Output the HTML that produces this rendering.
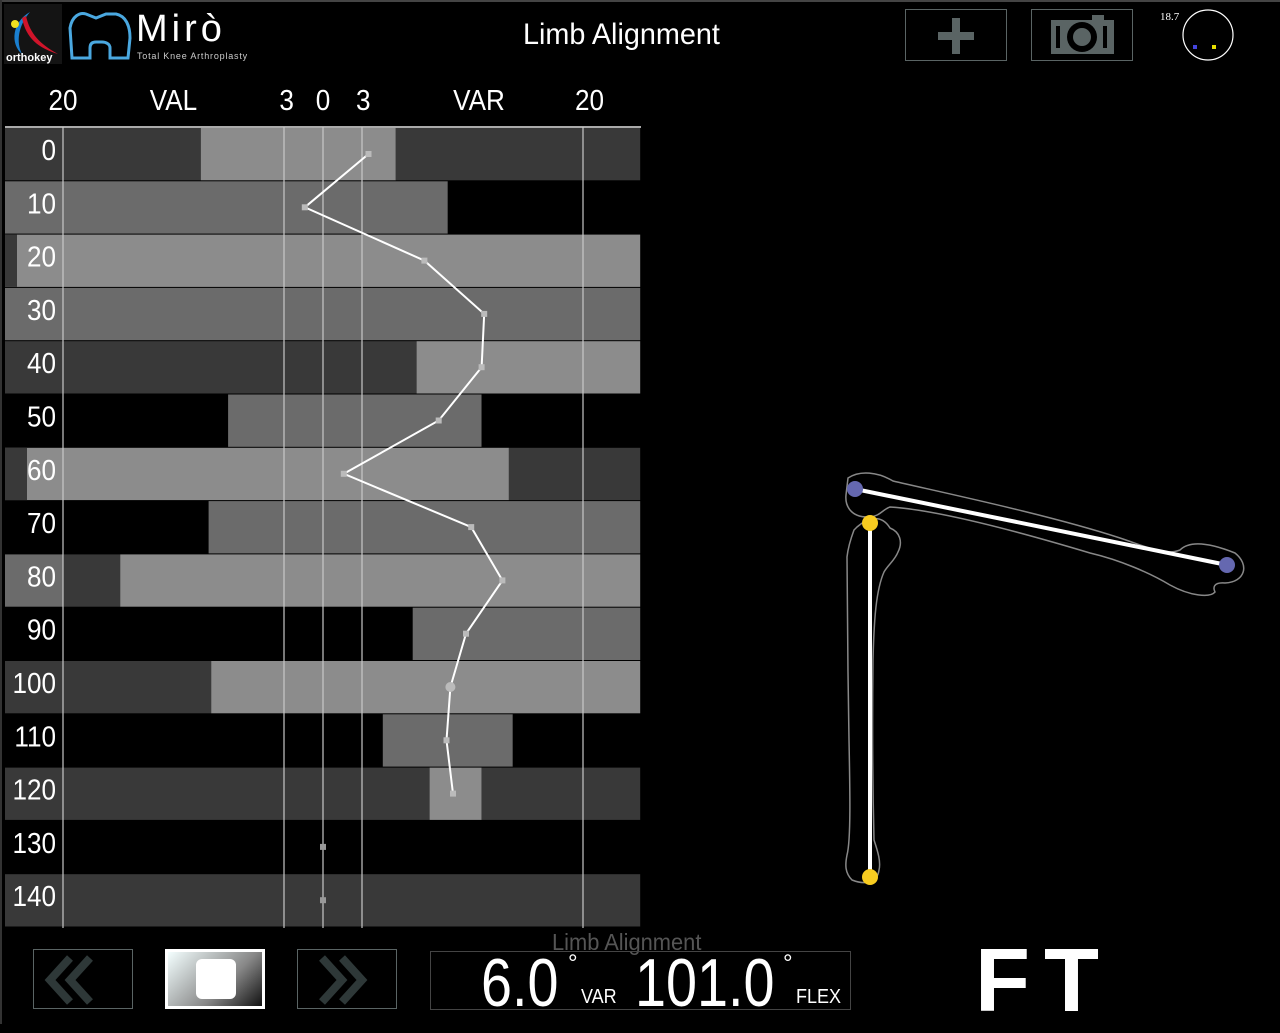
<!DOCTYPE html>
<html><head><meta charset="utf-8"><style>
body{margin:0;width:1280px;height:1024px;background:#000;overflow:hidden;font-family:"Liberation Sans",sans-serif;color:#fff;position:relative}
.frame{position:absolute;left:0;top:0;width:1280px;height:2px;background:#444}
.framel{position:absolute;left:0;top:0;width:2px;height:1024px;background:#333}
.btn{position:absolute;border:1px solid #5a6464;box-sizing:border-box}
.t{position:absolute;white-space:nowrap}
</style></head><body>
<div class="frame"></div>
<div class="framel"></div>

<svg style="position:absolute;left:4px;top:4px" width="58" height="60">
<rect width="58" height="60" fill="#141414"/>
<path d="M26 8 C8 18 6 40 18 50 C12 38 14 22 26 8Z" fill="#1a7fd0"/>
<path d="M18 14 C22 34 34 44 54 50 C36 40 26 30 22 12Z" fill="#d0142a"/>
<circle cx="11" cy="20" r="4" fill="#f0e020"/>
<text x="2" y="57" font-size="11" font-weight="bold" fill="#fff" font-family="Liberation Sans">orthokey</text>
</svg>
<svg style="position:absolute;left:66px;top:8px" width="70" height="56">
<path d="M6 50 L4 20 C6 8 14 4 20 6 L30 10 L40 6 L50 6 C60 8 64 18 64 30 L62 50 L44 50 L44 40 C44 36 40 34 36 34 L30 34 C26 34 24 36 24 40 L24 50Z" fill="none" stroke="#4aa8e0" stroke-width="3"/>
</svg>
<div class="t" style="left:136px;top:8px;font-size:38px;letter-spacing:4px">Mirò</div>
<div class="t" style="left:137px;top:51px;font-size:9px;color:#ccc;letter-spacing:0.8px">Total Knee Arthroplasty</div>
<div class="t" style="left:523px;top:18px;font-size:30px;transform:scaleX(0.96);transform-origin:left">Limb Alignment</div>

<div class="btn" style="left:905px;top:9px;width:102px;height:52px">
<div style="position:absolute;left:32px;top:22px;width:36px;height:8px;background:#5a6464"></div>
<div style="position:absolute;left:46px;top:8px;width:8px;height:36px;background:#5a6464"></div></div>
<div class="btn" style="left:1031px;top:9px;width:102px;height:52px">
<svg width="100" height="50"><rect x="19" y="10" width="63" height="34" fill="#5a6464"/><rect x="60" y="5" width="12" height="6" fill="#5a6464"/><circle cx="50" cy="27" r="15" fill="#000"/><circle cx="50" cy="27" r="9" fill="#5a6464"/><rect x="24" y="16" width="4" height="22" fill="#000"/><rect x="71" y="16" width="4" height="22" fill="#000"/></svg></div>
<div class="t" style="left:1160px;top:11px;font-size:11px;font-family:'Liberation Serif',serif">18.7</div>
<svg style="position:absolute;left:1180px;top:8px" width="56" height="56">
<circle cx="28" cy="27" r="25" fill="none" stroke="#fff" stroke-width="1.2"/>
<rect x="13" y="37" width="4" height="4" fill="#4444dd"/><rect x="32" y="37" width="4" height="4" fill="#e8e000"/></svg>

<svg id="chart" style="position:absolute;left:0;top:0" width="660" height="940"></svg>

<svg style="position:absolute;left:0;top:0" width="1280" height="1024">
<path d="M848 478 C860 470 878 472 893 481 C940 492 1050 515 1120 538 C1150 548 1165 556 1180 550 C1190 540 1210 543 1235 553 C1250 565 1245 582 1225 583 C1213 582 1213 588 1215 592 C1210 598 1190 596 1170 585 C1150 573 1120 560 1090 553 C1030 535 940 510 890 507 C882 510 880 516 870 517 C850 518 845 505 846 495Z" fill="none" stroke="#888" stroke-width="1.5"/>
<path d="M857 527 C865 520 880 512 890 528 C900 532 903 542 898 552 C895 560 888 565 884 572 C876 590 874 620 873 660 C872 740 873 800 874 840 C878 852 881 862 879 870 C877 885 862 884 852 880 C845 873 845 865 847 855 C851 840 850 790 849 740 C848 680 847 600 847 557 C848 548 851 538 854 530Z" fill="none" stroke="#888" stroke-width="1.5"/>
<line x1="855" y1="489" x2="1227" y2="565" stroke="#fff" stroke-width="4"/>
<line x1="870" y1="523" x2="870" y2="877" stroke="#fff" stroke-width="4"/>
<circle cx="1227" cy="565" r="8" fill="#6568b0"/>
<circle cx="855" cy="489" r="8" fill="#6568b0"/>
<circle cx="870" cy="523" r="8" fill="#f8cc20"/>
<circle cx="870" cy="877" r="8" fill="#f8cc20"/>
</svg>

<div class="btn" style="left:33px;top:949px;width:100px;height:60px">
<svg width="98" height="58"><path d="M36 8 L16 30 L36 52 M56 8 L36 30 L56 52" fill="none" stroke="#2e3838" stroke-width="8"/></svg></div>
<div style="position:absolute;left:165px;top:949px;width:100px;height:60px;box-sizing:border-box;border:3px solid #fff;background:linear-gradient(135deg,#f4ffff 0%,#888 60%,#111 100%)">
<div style="position:absolute;left:28px;top:7px;width:40px;height:40px;border-radius:6px;background:#fff"></div></div>
<div class="btn" style="left:297px;top:949px;width:100px;height:60px">
<svg width="98" height="58"><path d="M24 8 L44 30 L24 52 M44 8 L64 30 L44 52" fill="none" stroke="#2e3838" stroke-width="8"/></svg></div>
<div class="t" style="left:552px;top:929px;font-size:23px;color:#555;transform:scaleX(0.95);transform-origin:left">Limb Alignment</div>
<div class="btn" style="left:430px;top:951px;width:421px;height:59px;border-color:#444"></div>
<div class="t" style="left:481px;top:944px;font-size:68px;transform:scaleX(0.82);transform-origin:left">6.0</div>
<div class="t" style="left:568px;top:950px;font-size:24px">°</div>
<div class="t" style="left:581px;top:986px;font-size:20px;transform:scaleX(0.9);transform-origin:left">VAR</div>
<div class="t" style="left:635px;top:944px;font-size:68px;transform:scaleX(0.82);transform-origin:left">101.0</div>
<div class="t" style="left:783px;top:950px;font-size:24px">°</div>
<div class="t" style="left:796px;top:986px;font-size:20px;transform:scaleX(0.9);transform-origin:left">FLEX</div>
<div class="t" style="left:975px;top:930px;font-size:90px;font-weight:bold;letter-spacing:14px">FT</div>

<script>
const flexAngles=[0,10,20,30,40,50,60,70,80,90,100,110,120,130,140];
const axisLabels=["20","VAL","3","0","3","VAR","20"];
const axisLabelValues=[-20,-11.5,-2.8,0,3.1,12,20.5];
const gridValues=[-20,-3,0,3,20];
// row band segments: [fromDeg,toDeg,shade]  shade 0=black 1=dark 2=mid 3=light
const rowBands=[
[[-20,-9.4,1],[-9.4,5.6,3],[5.6,24.4,1]],
[[-20,9.6,2],[9.6,24.4,0]],
[[-20,24.4,3]],
[[-20,24.4,2]],
[[-20,7.2,1],[7.2,24.4,3]],
[[-20,-7.3,0],[-7.3,12.2,2],[12.2,24.4,0]],
[[-20,14.3,3],[14.3,24.4,1]],
[[-20,-8.8,0],[-8.8,24.4,2]],
[[-20,-15.6,1],[-15.6,24.4,3]],
[[-20,6.9,0],[6.9,24.4,2]],
[[-20,-8.6,1],[-8.6,24.4,3]],
[[-20,4.6,0],[4.6,14.6,2],[14.6,24.4,0]],
[[-20,8.2,1],[8.2,12.2,3],[12.2,24.4,1]],
[[-20,24.4,0]],
[[-20,24.4,1]]];
const labelShades=[1,2,3,2,1,0,3,0,2,0,1,0,1,0,1];
const labelStripShades=[-1,-1,1,-1,-1,-1,1,-1,-1,-1,-1,-1,-1,-1,-1];
const alignmentValues=[3.5,-1.4,7.8,12.4,12.2,8.9,1.6,11.4,13.8,11.0,9.8,9.5,10.0];
const idleValues=[0,0];
const shades=["#000","#393939","#6b6b6b","#8c8c8c"];
const NS="http://www.w3.org/2000/svg";
const svg=document.getElementById('chart');
const xs=v=>323+v*13;
const rowTop=i=>128+i*53.3;
const rowMid=i=>rowTop(i)+26;
function mk(t,a){const e=document.createElementNS(NS,t);for(const k in a)e.setAttribute(k,a[k]);svg.appendChild(e);return e;}
flexAngles.forEach((f,i)=>{
  const lb=mk('rect',{x:5,y:rowTop(i),width:58,height:52.3,fill:shades[labelShades[i]]});
  
  
  if(labelStripShades[i]>=0){
    const st=mk('rect',{x:5,y:rowTop(i),width:i===2?12:22,height:52.3,fill:shades[labelStripShades[i]]});
    
    
  }
  rowBands[i].forEach(s=>{
    const r=mk('rect',{x:xs(s[0]),y:rowTop(i),width:xs(s[1])-xs(s[0]),height:52.3,fill:shades[s[2]]});
    
    
  });
  const t=mk('text',{x:0,y:rowMid(i)+6,'text-anchor':'end','font-size':29,fill:'#fff','font-family':'Liberation Sans',transform:'translate(56,0) scale(0.9,1)'});
  
  
  t.textContent=f;
});
const topLine=mk('line',{x1:5,y1:127,x2:641,y2:127,stroke:'#aaa','stroke-width':2});


gridValues.forEach(g=>{
  const l=mk('line',{x1:xs(g),y1:127,x2:xs(g),y2:928,stroke:'#c8c8c8','stroke-width':1.2});
  
  
});
axisLabels.forEach((s,i)=>{
  const t=mk('text',{x:0,y:110,'text-anchor':'middle','font-size':29,fill:'#fff','font-family':'Liberation Sans',transform:'translate('+xs(axisLabelValues[i])+',0) scale(0.9,1)'});
  
  
  t.textContent=s;
});
const pts=alignmentValues.map((v,i)=>xs(v)+','+rowMid(i)).join(' ');
const pl=mk('polyline',{points:pts,fill:'none',stroke:'#fff','stroke-width':2});


alignmentValues.forEach((v,i)=>{
  const cur=flexAngles[i]===100;
  const p=cur?mk('circle',{cx:xs(v),cy:rowMid(i),r:5,fill:'#bbb'}):mk('rect',{x:xs(v)-3,y:rowMid(i)-3,width:6,height:6,fill:'#bbb'});
  
  
});
idleValues.forEach((v,j)=>{
  const i=alignmentValues.length+j;
  const p=mk('rect',{x:xs(v)-3,y:rowMid(i)-3,width:6,height:6,fill:'#999'});
  
  
});
</script>
</body></html>
